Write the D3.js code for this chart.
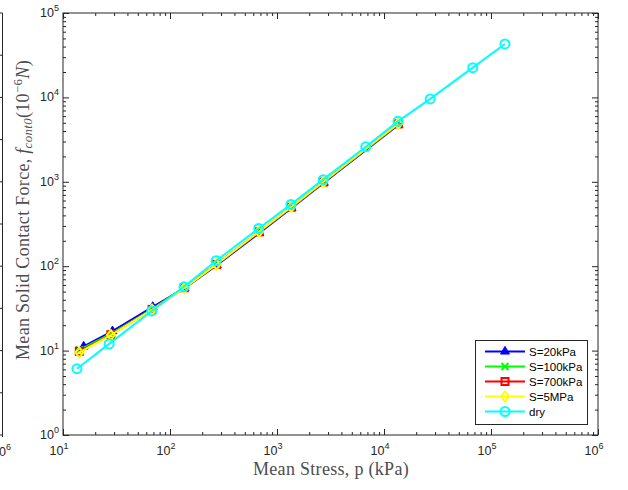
<!DOCTYPE html>
<html>
<head>
<meta charset="utf-8">
<script src="https://cdn.jsdelivr.net/npm/d3@7"></script>
<style>
  * { margin: 0; padding: 0; }
  body { background: #fff; width: 628px; height: 490px; overflow: hidden; }
  .tick-label { font-family: "Liberation Sans", Arial, sans-serif; font-size: 12.5px; fill: #262626; }
  .axis-title { font-family: "Liberation Serif", "DejaVu Serif", serif; font-size: 18px; fill: #4d4d4d; letter-spacing: 0.3px; }
  .legend-text { font-family: "Liberation Sans", Arial, sans-serif; font-size: 11.5px; fill: #000; }
</style>
</head>
<body>
<svg id="chart" width="628" height="490"></svg>
<script>
// mean stress p (kPa), dry sample
const dryStress = [13.5, 27, 67.5, 135, 270, 675, 1350, 2700, 6750, 13500, 27000, 67500, 135000];
const dryForce  = [6.1, 12, 29.5, 57, 116, 280, 540, 1060, 2600, 5200, 9600, 22500, 43000];

// wet samples (suction S)
const wetStress = [14.2, 28, 68, 136, 272, 680, 1360, 2720, 13600];
const s20kPa  = [11.2, 17, 33, 55, 103, 248, 490, 975, 4750];
const s100kPa = [10.2, 15.8, 31, 56, 106, 254, 498, 990, 4820];
const s700kPa = [9.8, 15.4, 30.8, 55.5, 105, 255, 500, 995, 4850];
const s5MPa   = [9.5, 15.3, 30.5, 55, 105, 257, 503, 1000, 4880];
const wetStressShift = [15.6, 29, 69, 137, 274, 684, 1370, 2740, 13700]; // blue markers sit slightly right

const seriesNames = ["S=20kPa", "S=100kPa", "S=700kPa", "S=5MPa", "dry"];
const seriesColors = ["#0000ff", "#00ff00", "#ff0000", "#ffff00", "#00ffff"];
const seriesMarkers = ["triangle", "cross", "square", "diamond", "circle"];

const xDecades = [10, 100, 1000, 10000, 100000, 1000000];
const yDecades = [1, 10, 100, 1000, 10000, 100000];

const series = [
  { x: wetStressShift, y: s20kPa },
  { x: wetStress, y: s100kPa },
  { x: wetStress, y: s700kPa },
  { x: wetStress, y: s5MPa },
  { x: dryStress, y: dryForce }
].map((s, i) => ({
  name: seriesNames[i], color: seriesColors[i], marker: seriesMarkers[i],
  pts: s.x.map((v, j) => [v, s.y[j]])
}));

const pLeft = 63, pRight = 598, pTop = 13, pBottom = 435;
const svg = d3.select("#chart");

const x = d3.scaleLog().domain([10, 1e6]).range([pLeft, pRight]);
const y = d3.scaleLog().domain([1, 1e5]).range([pBottom, pTop]);

// minor tick values
const minors = (dom) => {
  const out = [];
  for (let d = dom[0]; d < dom[1]; d *= 10)
    for (let k = 2; k <= 9; k++) out.push(d * k);
  return out;
};
const xMinor = minors([10, 1e6]);
const yMinor = minors([1, 1e5]);

// neighbouring panel remnant at the left edge
const nb = svg.append("g").attr("stroke", "#262626").attr("stroke-width", 1);
nb.append("line").attr("x1", 2.5).attr("x2", 2.5).attr("y1", pTop).attr("y2", pBottom + 2);
d3.range(0, 11).forEach(i => {
  const yy = pTop + i * 42.2;
  nb.append("line").attr("x1", 0).attr("x2", 2.5).attr("y1", yy).attr("y2", yy);
});
svg.append("text").attr("class", "tick-label").attr("x", -8).attr("y", 456)
  .text("10").append("tspan").attr("dy", -6).attr("font-size", "9px").text("6");

// axes (ticks point inward, on all four sides)
const g = svg.append("g");
const mk = (axis, tv, size) => axis.tickValues(tv).tickSize(-size).tickFormat("");
const axisStyle = sel => {
  sel.select(".domain").remove();
  sel.selectAll("line").attr("stroke", "#262626");
};
g.append("g").attr("transform", `translate(0,${pBottom})`).call(mk(d3.axisBottom(x), xDecades, 6)).call(axisStyle);
g.append("g").attr("transform", `translate(0,${pBottom})`).call(mk(d3.axisBottom(x), xMinor, 3)).call(axisStyle);
g.append("g").attr("transform", `translate(0,${pTop})`).call(mk(d3.axisTop(x), xDecades, 6)).call(axisStyle);
g.append("g").attr("transform", `translate(0,${pTop})`).call(mk(d3.axisTop(x), xMinor, 3)).call(axisStyle);
g.append("g").attr("transform", `translate(${pLeft},0)`).call(mk(d3.axisLeft(y), yDecades, 6)).call(axisStyle);
g.append("g").attr("transform", `translate(${pLeft},0)`).call(mk(d3.axisLeft(y), yMinor, 3)).call(axisStyle);
g.append("g").attr("transform", `translate(${pRight},0)`).call(mk(d3.axisRight(y), yDecades, 6)).call(axisStyle);
g.append("g").attr("transform", `translate(${pRight},0)`).call(mk(d3.axisRight(y), yMinor, 3)).call(axisStyle);

g.append("rect").attr("x", pLeft).attr("y", pTop).attr("width", pRight - pLeft).attr("height", pBottom - pTop)
  .attr("fill", "none").attr("stroke", "#262626").attr("stroke-width", 1);

// tick labels 10^n
xDecades.forEach(v => {
  const t = svg.append("text").attr("class", "tick-label").attr("x", x(v) - 4).attr("y", pBottom + 20).attr("text-anchor", "middle");
  t.append("tspan").text("10");
  t.append("tspan").attr("dy", -6).attr("font-size", "9px").text(Math.round(Math.log10(v)));
});
yDecades.forEach(v => {
  const t = svg.append("text").attr("class", "tick-label").attr("x", pLeft - 4).attr("y", y(v) + 4).attr("text-anchor", "end");
  t.append("tspan").text("10");
  t.append("tspan").attr("dy", -6).attr("font-size", "9px").text(Math.round(Math.log10(v)));
});

// axis titles
svg.append("text").attr("class", "axis-title").attr("x", 331).attr("y", 475).attr("text-anchor", "middle")
  .text("Mean Stress, p (kPa)");

const yt = svg.append("text").attr("class", "axis-title").attr("text-anchor", "middle")
  .attr("font-size", "19px").attr("letter-spacing", "0.5px")
  .attr("transform", "translate(29,210) rotate(-90)");
yt.append("tspan").text("Mean Solid Contact Force, ");
yt.append("tspan").attr("font-style", "italic").text("f");
yt.append("tspan").attr("font-style", "italic").attr("font-size", "13px").attr("dy", 3).text("cont0");
yt.append("tspan").attr("dy", -3).text("(10");
yt.append("tspan").attr("font-size", "13px").attr("dy", -7).text("−6");
yt.append("tspan").attr("font-style", "italic").attr("dy", 7).text("N");
yt.append("tspan").text(")");

// markers
function drawMarker(sel, type, color) {
  if (type === "triangle") {
    sel.append("path").attr("d", d3.symbol(d3.symbolTriangle, 34)())
      .attr("fill", color).attr("stroke", color).attr("stroke-width", 1);
  } else if (type === "cross") {
    sel.append("path").attr("d", "M-3.5,-3.5L3.5,3.5M-3.5,3.5L3.5,-3.5")
      .attr("fill", "none").attr("stroke", color).attr("stroke-width", 2);
  } else if (type === "square") {
    sel.append("rect").attr("x", -3.5).attr("y", -3.5).attr("width", 7).attr("height", 7)
      .attr("fill", "none").attr("stroke", color).attr("stroke-width", 2);
  } else if (type === "diamond") {
    sel.append("path").attr("d", "M0,-5L4,0L0,5L-4,0Z")
      .attr("fill", "none").attr("stroke", color).attr("stroke-width", 2);
  } else {
    sel.append("circle").attr("r", 4.5)
      .attr("fill", "none").attr("stroke", color).attr("stroke-width", 2);
  }
}

const line = d3.line().x(d => x(d[0])).y(d => y(d[1]));
series.forEach(s => {
  svg.append("path").datum(s.pts).attr("d", line)
    .attr("fill", "none").attr("stroke", s.color).attr("stroke-width", 2);
  s.pts.forEach(p => {
    const m = svg.append("g").attr("transform", `translate(${x(p[0])},${y(p[1])})`);
    drawMarker(m, s.marker, s.color);
  });
});

// legend
const lg = svg.append("g");
lg.append("rect").attr("x", 475.5).attr("y", 340.5).attr("width", 112).attr("height", 84)
  .attr("fill", "#fff").attr("stroke", "#262626").attr("stroke-width", 1);
series.forEach((s, i) => {
  const yy = 351.5 + i * 15;
  lg.append("line").attr("x1", 485).attr("x2", 525).attr("y1", yy).attr("y2", yy)
    .attr("stroke", s.color).attr("stroke-width", 2);
  const m = lg.append("g").attr("transform", `translate(505,${yy})`);
  drawMarker(m, s.marker, s.color);
  lg.append("text").attr("class", "legend-text").attr("x", 529).attr("y", yy + 4).text(s.name);
});
</script>
</body>
</html>
